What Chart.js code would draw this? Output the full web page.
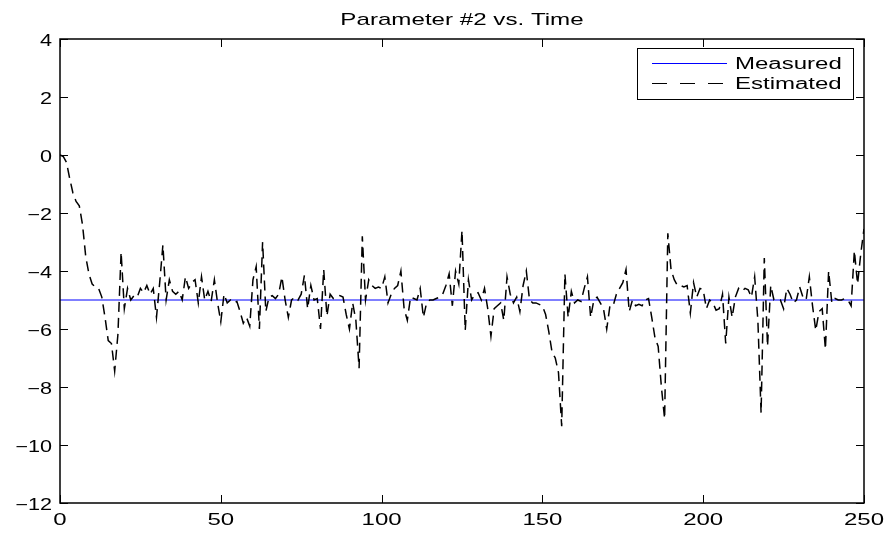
<!DOCTYPE html>
<html>
<head>
<meta charset="utf-8">
<script src="https://cdn.jsdelivr.net/npm/chart.js@4.4.0/dist/chart.umd.min.js"></script>
<style>
  html, body { margin: 0; padding: 0; background: #fff; }
  #wrap { width: 889px; height: 535px; }
</style>
</head>
<body>
<div id="wrap"><canvas id="chart" width="889" height="535"></canvas></div>
<script>
// Chart values
const chartTitle = 'Parameter #2 vs. Time';
const seriesNames = ['Measured', 'Estimated'];
const xTicks = [0, 50, 100, 150, 200, 250];
const yTicks = [-12, -10, -8, -6, -4, -2, 0, 2, 4];

// measured parameter is a flat line
const measuredTime = [0, 250];
const measuredValues = [-5, -5];

// estimated parameter, one value per time step 0..250
const estimatedValues = [
    0, -0.05, -0.25, -0.8, -1.3, -1.6, -1.75, -2.4, -3.5, -4.1,
    -4.45, -4.55, -4.6, -4.9, -5.6, -6.4, -6.5, -7.45, -6.2, -3.35,
    -5.3, -4.6, -5.0, -4.85, -4.9, -4.6, -4.75, -4.5, -4.8, -4.6,
    -5.6, -4.4, -3.1, -5.0, -4.3, -4.7, -4.8, -4.7, -5.0, -4.2,
    -4.6, -4.4, -4.3, -5.1, -4.2, -5.0, -4.7, -5.05, -4.3, -5.1,
    -5.75, -4.8, -5.1, -5.0, -5.1, -5.05, -5.4, -5.8, -5.6, -5.9,
    -4.3, -3.85, -6.0, -3.0, -5.4, -4.9, -4.85, -4.95, -4.8, -4.2,
    -5.0, -5.6, -5.0, -4.9, -5.0, -4.8, -4.15, -5.3, -4.5, -5.0,
    -4.95, -6.0, -3.95, -5.55, -4.8, -4.95, -4.9, -4.85, -4.9, -5.5,
    -6.0, -5.1, -5.7, -7.35, -2.8, -5.0, -4.3, -4.5, -4.6, -4.55,
    -4.6, -4.2, -5.1, -4.8, -4.6, -4.5, -4.0, -5.3, -5.7, -4.9,
    -4.95, -5.0, -4.6, -5.6, -5.1, -5.0, -5.0, -4.95, -4.9, -4.8,
    -4.5, -4.1, -5.2, -4.0, -4.45, -2.6, -6.05, -4.3, -5.0, -4.8,
    -4.75, -5.0, -4.6, -5.3, -6.25, -5.3, -5.2, -5.1, -5.7, -4.2,
    -4.8, -5.1, -4.9, -5.4, -4.5, -4.0, -5.0, -5.1, -5.1, -5.15,
    -5.2, -5.5, -6.1, -6.8, -7.0, -7.5, -9.35, -4.1, -5.6, -4.7,
    -5.1, -5.0, -5.05, -4.6, -4.2, -5.6, -5.0, -4.9, -5.1, -5.3,
    -6.0, -5.2, -5.2, -4.8, -4.6, -4.4, -3.95, -5.4, -5.0, -5.2,
    -5.15, -5.2, -5.0, -4.95, -5.6, -6.3, -6.6, -8.0, -9.1, -2.7,
    -3.95, -4.3, -4.5, -4.5, -4.55, -4.5, -5.45, -4.4, -4.9, -4.6,
    -4.65, -5.3, -5.0, -5.1, -5.35, -5.3, -4.8, -6.5, -4.9, -5.6,
    -4.9, -4.6, -4.7, -4.6, -4.65, -4.9, -4.2, -5.7, -8.9, -3.55,
    -6.6, -4.5, -5.0, -5.0, -5.0, -5.3, -4.6, -4.8, -5.1, -5.0,
    -4.55, -4.9, -5.0, -4.2, -5.2, -6.05, -5.4, -5.3, -6.7, -4.0,
    -5.1, -4.95, -5.0, -5.0, -4.95, -5.0, -5.2, -3.3, -4.45, -3.4,
    -2.55
];

const FONT = 'Helvetica, "Liberation Sans", Arial, sans-serif';
const STRETCH = 1.5;   // the reference text is wide, like a stretched Helvetica

function fmtTick(v) {
    return String(v).replace('-', '\u2212');
}

// draw text stretched horizontally, anchored at x
function wideText(ctx, txt, x, y, align, sx) {
    ctx.save();
    ctx.translate(x, y);
    ctx.scale(sx, 1);
    ctx.textAlign = align;
    ctx.fillText(txt, 0, 0);
    ctx.restore();
}

// MATLAB style box with inward ticks, tick labels and title
const boxPlugin = {
    id: 'boxPlugin',
    afterDatasetsDraw(chart) {
        const { ctx, chartArea: a, scales } = chart;
        ctx.save();
        ctx.strokeStyle = '#000';
        ctx.lineWidth = 1;
        const tl = 8;
        ctx.beginPath();
        xTicks.forEach(v => {
            const px = Math.round(scales.x.getPixelForValue(v)) + 0.5;
            ctx.moveTo(px, a.bottom); ctx.lineTo(px, a.bottom - tl);
            ctx.moveTo(px, a.top); ctx.lineTo(px, a.top + tl);
        });
        yTicks.forEach(v => {
            const py = Math.round(scales.y.getPixelForValue(v)) + 0.5;
            ctx.moveTo(a.left, py); ctx.lineTo(a.left + tl, py);
            ctx.moveTo(a.right, py); ctx.lineTo(a.right - tl, py);
        });
        ctx.stroke();
        ctx.lineWidth = 1.5;
        ctx.strokeRect(a.left, a.top, a.right - a.left, a.bottom - a.top);

        ctx.fillStyle = '#000';
        ctx.font = '16px ' + FONT;
        ctx.textBaseline = 'alphabetic';
        xTicks.forEach(v => {
            wideText(ctx, fmtTick(v), scales.x.getPixelForValue(v), a.bottom + 22, 'center', STRETCH);
        });
        yTicks.forEach(v => {
            wideText(ctx, fmtTick(v), a.left - 8, scales.y.getPixelForValue(v) + 7, 'right', 1.35);
        });
        ctx.font = '17px ' + FONT;
        wideText(ctx, chartTitle, (a.left + a.right) / 2, 25, 'center', 1.42);
        ctx.restore();
    }
};

// legend box inside the plot, top right
const legendPlugin = {
    id: 'legendPlugin',
    afterDraw(chart) {
        const { ctx, chartArea: a } = chart;
        const w = 216, h = 51;
        const bx = a.right - 11 - w, by = a.top + 9;
        ctx.save();
        ctx.fillStyle = '#fff';
        ctx.fillRect(bx, by, w, h);
        ctx.strokeStyle = '#000';
        ctx.lineWidth = 1;
        ctx.strokeRect(bx + 0.5, by + 0.5, w, h);

        const rows = [
            { y: by + 15, color: '#0000ff', dash: [] },
            { y: by + 35, color: '#000000', dash: [15, 13] }
        ];
        rows.forEach((r, i) => {
            ctx.setLineDash(r.dash);
            ctx.strokeStyle = r.color;
            ctx.lineWidth = 1;
            ctx.beginPath();
            ctx.moveTo(bx + 15, r.y + 0.5);
            ctx.lineTo(bx + 90, r.y + 0.5);
            ctx.stroke();
            ctx.setLineDash([]);
            ctx.fillStyle = '#000';
            ctx.font = '16px ' + FONT;
            ctx.textBaseline = 'alphabetic';
            wideText(ctx, seriesNames[i], bx + 98, r.y + 6, 'left', STRETCH);
        });
        ctx.restore();
    }
};

const estimatedPoints = estimatedValues.map((v, i) => ({ x: i, y: v }));
const measuredPoints = measuredTime.map((t, i) => ({ x: t, y: measuredValues[i] }));

new Chart(document.getElementById('chart').getContext('2d'), {
    type: 'line',
    data: {
        datasets: [
            {
                label: seriesNames[0],
                data: measuredPoints,
                borderColor: '#0000ff',
                borderWidth: 1,
                pointRadius: 0,
                tension: 0,
                order: 1
            },
            {
                label: seriesNames[1],
                data: estimatedPoints,
                borderColor: '#000000',
                borderWidth: 1.5,
                borderDash: [10, 6],
                pointRadius: 0,
                tension: 0,
                order: 0
            }
        ]
    },
    options: {
        responsive: false,
        animation: false,
        layout: { padding: { left: 0, right: 25, top: 39, bottom: 0 } },
        plugins: {
            legend: { display: false },
            tooltip: { enabled: false },
            title: { display: false }
        },
        scales: {
            x: {
                type: 'linear',
                min: 0,
                max: 250,
                afterBuildTicks: s => { s.ticks = xTicks.map(v => ({ value: v })); },
                afterFit: s => { s.height = 32; },
                ticks: { display: false },
                grid: { display: false },
                border: { display: false }
            },
            y: {
                min: -12,
                max: 4,
                afterBuildTicks: s => { s.ticks = yTicks.map(v => ({ value: v })); },
                afterFit: s => { s.width = 60; },
                ticks: { display: false },
                grid: { display: false },
                border: { display: false }
            }
        }
    },
    plugins: [boxPlugin, legendPlugin]
});
</script>
</body>
</html>
